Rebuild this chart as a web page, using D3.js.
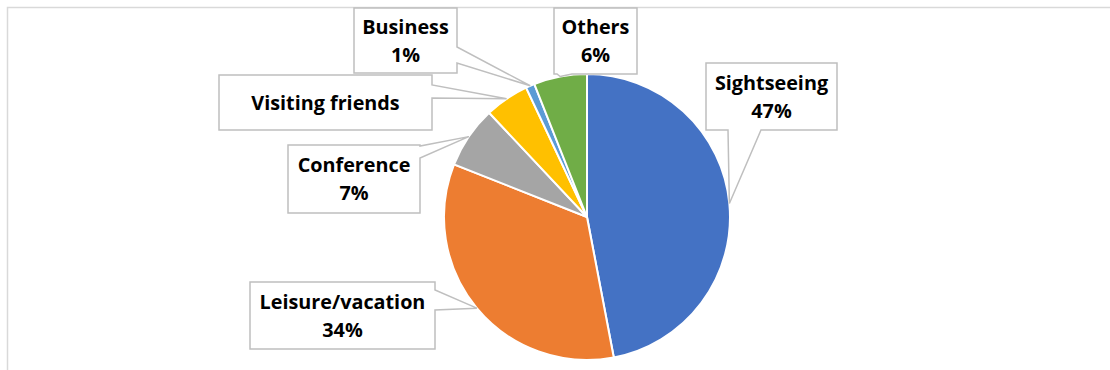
<!DOCTYPE html>
<html>
<head>
<meta charset="utf-8">
<script src="https://cdn.jsdelivr.net/npm/d3@7"></script>
<style>
  body { margin: 0; background: #fff; }
  svg { display: block; }
  .lbl { font-family: "Open Sans", sans-serif; font-weight: 700; font-size: 19.8px; fill: #000; }
</style>
</head>
<body>
<div id="chart"></div>
<script>
// data
const categories = ["Sightseeing", "Leisure/vacation", "Conference", "Visiting friends", "Business", "Others"];
const values = [47, 34, 7, 5, 1, 6];
const percentLabels = ["47%", "34%", "7%", "", "1%", "6%"];
const colors = ["#4472C4", "#ED7D31", "#A5A5A5", "#FFC000", "#5B9BD5", "#70AD47"];

// callout boxes (layout only): box and where the pointer leaves it
const callouts = [
  { x: 706, y: 63, w: 131, h: 67, side: "bottom", b0: 728, b1: 761 },
  { x: 250, y: 282, w: 185, h: 67, side: "right", b0: 290, b1: 310 },
  { x: 288, y: 145, w: 132, h: 68, side: "right", b0: 146, b1: 158 },
  { x: 219, y: 75, w: 213, h: 55, side: "right", b0: 85, b1: 98 },
  { x: 354, y: 8, w: 103, h: 65, side: "right", b0: 47, b1: 63 },
  { x: 554, y: 8, w: 83, h: 66, side: "bottom", b0: 557, b1: 572 }
];

const w = 1110;
const h = 370;
const cx = 587;
const cy = 217;
const r = 143;

const svg = d3.select("#chart")
  .append("svg")
  .attr("width", w)
  .attr("height", h);

// chart area border (runs off the right and bottom)
svg.append("rect")
  .attr("x", 7.5)
  .attr("y", 7.5)
  .attr("width", w + 20)
  .attr("height", h + 20)
  .attr("fill", "none")
  .attr("stroke", "#D9D9D9")
  .attr("stroke-width", 1.5);

const pie = d3.pie().sort(null).value(d => d);
const arcs = pie(values);
const arc = d3.arc().innerRadius(0).outerRadius(r);
const edge = d3.arc().innerRadius(r).outerRadius(r);

const g = svg.append("g").attr("transform", `translate(${cx},${cy})`);
g.selectAll("path")
  .data(arcs)
  .join("path")
  .attr("d", arc)
  .attr("fill", (d, i) => colors[i])
  .attr("stroke", "#fff")
  .attr("stroke-width", 2);

// callout shape with pointer to the slice edge
function calloutPath(c, tip) {
  const x1 = c.x + c.w, y1 = c.y + c.h;
  const p = d3.path();
  p.moveTo(c.x, c.y);
  p.lineTo(x1, c.y);
  if (c.side === "right") {
    p.lineTo(x1, c.b0);
    p.lineTo(tip[0], tip[1]);
    p.lineTo(x1, c.b1);
    p.lineTo(x1, y1);
    p.lineTo(c.x, y1);
  } else {
    p.lineTo(x1, y1);
    p.lineTo(c.b1, y1);
    p.lineTo(tip[0], tip[1]);
    p.lineTo(c.b0, y1);
    p.lineTo(c.x, y1);
  }
  p.closePath();
  return p.toString();
}

const lineH = 28;
const capH = 14;

arcs.forEach((d, i) => {
  const c = callouts[i];
  const t = edge.centroid(d);
  const tip = [t[0] + cx, t[1] + cy];
  svg.append("path")
    .attr("d", calloutPath(c, tip))
    .attr("fill", "#fff")
    .attr("stroke", "#BFBFBF")
    .attr("stroke-width", 1.5);

  const lines = [categories[i]];
  if (percentLabels[i]) lines.push(percentLabels[i]);
  const midY = c.y + c.h / 2;
  const first = midY - (lines.length - 1) * lineH / 2 + capH / 2;
  const txt = svg.append("text")
    .attr("class", "lbl")
    .attr("text-anchor", "middle");
  lines.forEach((s, k) => {
    txt.append("tspan")
      .attr("x", c.x + c.w / 2)
      .attr("y", first + k * lineH)
      .text(s);
  });
});
</script>
</body>
</html>
